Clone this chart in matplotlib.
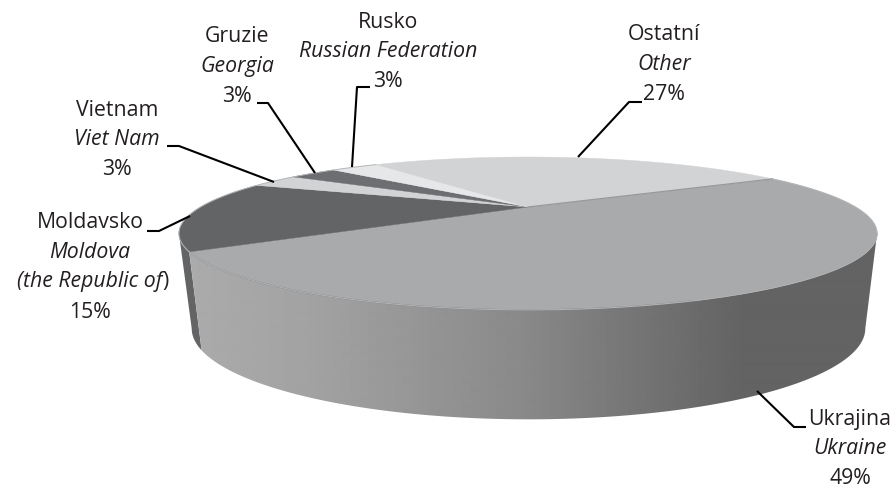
"""3D-look pie of shares by country, drawn on a pixel-sized axes."""
import matplotlib
matplotlib.use("Agg")
import matplotlib.pyplot as plt
from matplotlib.patches import Polygon
import numpy as np

plt.rcParams["font.family"] = ["Open Sans", "DejaVu Sans"]

# clockwise from the right-hand seam
names_cs = ["Ukrajina", "Moldavsko", "Vietnam", "Gruzie", "Rusko", "Ostatní"]
names_en = ["Ukraine", "Moldova", "Viet Nam", "Georgia", "Russian Federation", "Other"]
shares = [49, 15, 3, 3, 3, 27]
top_colors = ["#a9aaac", "#636466", "#d1d3d4", "#6d6e71", "#e6e7e8", "#d1d3d4"]
start_angle = 29.2

# screen shade of the Ukraine wall against x position
wall_x = [190, 300, 400, 520, 620, 740, 880]
wall_gray = [0.67, 0.64, 0.595, 0.54, 0.47, 0.39, 0.39]

TOP = dict(cx=528.0, cy=207.0, a=327.5, b=67.3, k=0.346)
BOTTOM = dict(cx=528.5, cy=297.0, a=316.0, b=80.0, k=0.346)
TEXT_COLOR = "#231f20"
FONT_SIZE = 15.3


def project(deg, disc):
    """Perspective view of a point on the rim of a disc."""
    t = np.radians(deg)
    w = 1 + disc["k"] * np.sin(t)
    return disc["cx"] + disc["a"] * np.cos(t) / w, disc["cy"] - disc["b"] * np.sin(t) / w


def rim(deg_from, deg_to, disc):
    deg = np.linspace(deg_from, deg_to, 200)
    return np.column_stack(project(deg, disc))


fig = plt.figure(figsize=(8.95, 4.88), dpi=100)
ax = fig.add_axes([0, 0, 1, 1])
ax.axis("off")

# slice boundaries, going clockwise
ends = start_angle - np.cumsum(shares) * 3.6
starts = np.r_[start_angle, ends[:-1]]

# silhouette tips: where the perspective ellipse is widest
tip = np.degrees(np.arcsin(TOP["k"]))
right_tip, left_tip = -tip, -180 + tip

# side wall: Ukraine gets a left-right shade, Moldova is flat
wall_pts = np.vstack([rim(right_tip, ends[0], TOP), rim(ends[0], right_tip, BOTTOM)])
wall = Polygon(wall_pts, closed=True, fc="none", ec="none", zorder=2)
ax.add_patch(wall)
xs = np.arange(170, 885)
shade = np.interp(xs, wall_x, wall_gray)[None, :]
img = ax.imshow(shade, cmap="gray", vmin=0, vmax=1, extent=[170, 885, 430, 200],
                aspect="auto", zorder=2, interpolation="bilinear")
img.set_clip_path(wall)
ax.set_xlim(0, 895)
ax.set_ylim(488, 0)

side = np.vstack([rim(ends[0], left_tip, TOP), rim(left_tip, ends[0], BOTTOM)])
ax.add_patch(Polygon(side, closed=True, fc=top_colors[1], ec="none", zorder=1))

# top face
apex = (TOP["cx"], TOP["cy"])
for d0, d1, color in zip(starts, ends, top_colors):
    pts = np.vstack([[apex], rim(d0, d1, TOP)])
    ax.add_patch(Polygon(pts, closed=True, fc=color, ec=color, lw=0.3, zorder=3))

# darker hairlines: Ukraine front rim and the seam with Other, light rim on Other
ax.plot(*rim(ends[0], -70, TOP).T, color="#808285", lw=1.0, zorder=4)
ax.plot(*rim(-70, -20, TOP).T, color="#96979a", lw=0.7, zorder=4)
ax.plot(*np.vstack([[apex], rim(starts[0], starts[0], TOP)[:1]]).T, color="#97989b", lw=0.9, zorder=4)
ax.plot(*rim(ends[-2], starts[0], TOP).T, color="#b5b6b8", lw=0.7, zorder=4)

# leader lines
leaders = [
    [(578, 157), (629, 102), (642, 102)],
    [(352, 167), (357, 87), (370, 87)],
    [(315, 173), (268, 103), (257, 103)],
    [(274, 182), (179, 146), (167, 146)],
    [(190, 216), (159, 231), (147, 231)],
    [(757, 391), (794, 427), (806, 427)],
]
for line in leaders:
    ax.plot(*zip(*line), color="black", lw=1.5, zorder=5, solid_capstyle="butt")


def label(x, y, lines):
    # lines are (text, style); row spacing matches the reference
    for i, (txt, style) in enumerate(lines):
        ax.text(x, y + i * 29.7, txt, ha="center", va="center", style=style,
                fontsize=FONT_SIZE, color=TEXT_COLOR, zorder=6)


def pct(v):
    return f"{v}%"


label(850, 419, [(names_cs[0], "normal"), (names_en[0], "italic"), (pct(shares[0]), "normal")])
label(90, 223, [(names_cs[1], "normal"), (names_en[1], "italic")])
ax.text(162, 282, "(the Republic of", ha="right", va="center", style="italic",
        fontsize=FONT_SIZE, color=TEXT_COLOR, zorder=6)
ax.text(162, 282, ")", ha="left", va="center", fontsize=FONT_SIZE, color=TEXT_COLOR, zorder=6)
ax.text(90, 312, pct(shares[1]), ha="center", va="center", fontsize=FONT_SIZE, color=TEXT_COLOR, zorder=6)
label(117, 110, [(names_cs[2], "normal"), (names_en[2], "italic"), (pct(shares[2]), "normal")])
label(237, 37, [(names_cs[3], "normal"), (names_en[3], "italic"), (pct(shares[3]), "normal")])
label(388, 22, [(names_cs[4], "normal"), (names_en[4], "italic"), (pct(shares[4]), "normal")])
label(664, 35, [(names_cs[5], "normal"), (names_en[5], "italic"), (pct(shares[5]), "normal")])

fig.savefig("out.png", dpi=100, facecolor="white")
